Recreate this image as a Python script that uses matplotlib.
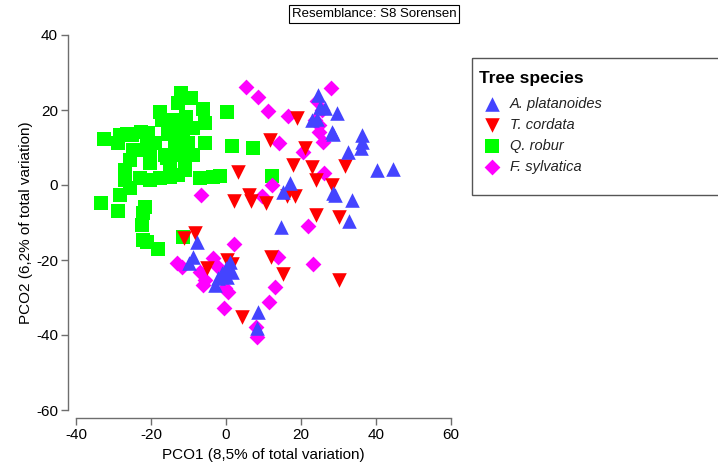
import matplotlib
matplotlib.use("Agg")
import matplotlib.pyplot as plt
from matplotlib.patches import Rectangle

plt.rcParams['font.family'] = ['Liberation Sans', 'DejaVu Sans']
plt.rcParams['axes.unicode_minus'] = False

species = ["A. platanoides", "T. cordata", "Q. robur", "F. sylvatica"]

a_plat_x = [24.5, 25.1, 26.4, 29.6, 22.9, 24.3, 28.3, 28.5, 36.3, 36.3, 32.5, 40.3, 44.5, 17.1, 15.2,
            28.5, 29.1, 33.6, 32.8, 14.7, -7.7, -8.8, -9.9, 1.1, 1.6, -2.1, -2.9, 0.3, -1.0, 8.5, 8.3,
            36.0, 0.0]
a_plat_y = [24.0, 20.8, 20.5, 19.2, 17.3, 17.6, 14.1, 13.6, 13.3, 11.5, 8.8, 4.0, 4.3, 0.5, -1.9,
            -2.1, -2.7, -4.0, -9.6, -11.2, -15.2, -19.2, -20.8, -20.5, -23.2, -24.8, -26.7, -24.5, -23.5,
            -33.9, -38.1, 10.0, -22.0]

t_cord_x = [18.9, 11.7, 21.1, 3.2, 17.9, 22.9, 31.7, 24.0, 28.3, 2.1, 6.1, 6.7, 10.7, 16.3, 18.4,
            24.0, 30.1, -11.2, -8.3, 12.0, -5.1, 0.3, 1.5, 15.2, 30.1, 4.3]
t_cord_y = [17.9, 12.0, 9.9, 3.5, 5.3, 4.8, 5.1, 1.3, 0.0, -4.3, -2.7, -4.3, -4.8, -2.9, -2.9,
            -8.0, -8.5, -14.1, -12.8, -19.2, -22.1, -20.0, -21.0, -23.7, -25.3, -35.2]

q_rob_x = [-12.0, -9.3, -12.8, -6.1, 0.3, -17.6, -10.7, -16.0, -5.6, -8.8, -22.7, -26.4, -32.5, -28.3,
           -20.8, -15.5, -11.5, -18.9, -13.6, -10.1, -5.6, 1.6, 7.2, -22.9, -20.3, -16.3, -12.3, -8.8,
           -25.6, -20.3, -14.9, -10.9, -26.9, -10.9, -13.6, -22.9, -20.3, -26.9, -6.9, -3.5, -1.6, 12.3,
           -25.6, -28.3, -33.3, -28.8, -21.6, -22.1, -22.4, -22.1, -21.1, -18.1, -11.5, -17.6, -14.9,
           -12.8, -21.1, -24.8, -17.1, -28.8, -25.1, -15.7, -14.9, -12.3]
q_rob_y = [24.5, 23.2, 21.9, 20.3, 19.5, 19.5, 18.1, 17.3, 16.5, 15.2, 14.1, 13.6, 12.3, 13.3,
           13.9, 13.6, 13.6, 11.2, 10.4, 11.2, 11.2, 10.4, 9.9, 9.3, 8.5, 8.0, 8.0, 8.0,
           6.7, 5.9, 5.3, 6.7, 4.0, 4.0, 2.7, 1.9, 1.3, 1.3, 1.9, 2.1, 2.4, 2.4,
           -0.8, -2.7, -4.8, -6.9, -5.9, -7.5, -10.7, -14.7, -15.2, -17.1, -13.9, 1.9, 2.1,
           2.7, 11.5, 9.3, 17.3, 11.2, 13.3, 7.2, 13.9, 17.3]

f_sylv_x = [5.3, 8.5, 11.2, 16.5, 28.0, 24.8, 25.9, 14.1, 20.5, 26.1, 12.3, 9.6, -6.7, 21.9, 2.1,
            13.9, 23.2, 23.7, 24.8, -13.1, -11.7, -3.5, -2.1, -6.9, -6.1, -5.6, -0.3, 0.5, -0.5,
            13.1, 11.5, 8.0, 8.3, 24.3, 25.6]
f_sylv_y = [26.1, 23.5, 19.7, 18.4, 25.9, 14.1, 11.5, 11.2, 8.8, 3.2, 0.0, -2.9, -2.7, -10.9, -15.7,
            -19.2, -21.1, 17.3, 16.0, -20.8, -21.9, -19.5, -21.9, -23.2, -26.7, -25.3, -27.5, -28.5, -32.8,
            -27.2, -31.2, -37.9, -40.5, 22.5, 20.0]

colors = {"A. platanoides": "#4444FF", "T. cordata": "#FF0000", "Q. robur": "#00FF00", "F. sylvatica": "#FF00FF"}
markers = {"A. platanoides": "^", "T. cordata": "v", "Q. robur": "s", "F. sylvatica": "D"}
sizes = {"A. platanoides": 110, "T. cordata": 110, "Q. robur": 95, "F. sylvatica": 65}

W, H = 718, 468
fig = plt.figure(figsize=(W / 100, H / 100), dpi=100)
ax = fig.add_axes([76 / W, (H - 410) / H, (451 - 76) / W, (410 - 35) / H])
ax.set_xlim(-40, 60)
ax.set_ylim(-60, 40)

data = {
    "Q. robur": (q_rob_x, q_rob_y),
    "F. sylvatica": (f_sylv_x, f_sylv_y),
    "T. cordata": (t_cord_x, t_cord_y),
    "A. platanoides": (a_plat_x, a_plat_y),
}
for sp in ["Q. robur", "F. sylvatica", "T. cordata", "A. platanoides"]:
    xs, ys = data[sp]
    ax.scatter(xs, ys, marker=markers[sp], s=sizes[sp], c=colors[sp], linewidths=0, zorder=3,
               clip_on=False)

for s in ["top", "right"]:
    ax.spines[s].set_visible(False)
for s in ["left", "bottom"]:
    ax.spines[s].set_position(("outward", 6))
    ax.spines[s].set_color("#6e6e6e")
    ax.spines[s].set_linewidth(1.0)
ax.set_xticks([-40, -20, 0, 20, 40, 60])
ax.set_yticks([-60, -40, -20, 0, 20, 40])
ax.tick_params(direction="out", length=5, width=1, color="#6e6e6e", labelsize=11, pad=2)
ax.set_xlabel("PCO1 (8,5% of total variation)", fontsize=11, labelpad=4)
ax.set_ylabel("PCO2 (6,2% of total variation)", fontsize=11, labelpad=2)

fig.text(374 / W, 1 - 14 / H, "Resemblance: S8 Sorensen", ha="center", va="center", fontsize=9.5,
         bbox=dict(boxstyle="square,pad=0.2", fc="white", ec="black", lw=0.8))

# legend panel
lax = fig.add_axes([472 / W, (H - 195) / H, (W - 472) / W, (195 - 57) / H])
lax.set_xlim(0, W - 472)
lax.set_ylim(195 - 57, 0)
lax.axis("off")
lax.add_patch(Rectangle((0.5, 0.5), 400, 137, fill=False, ec="#555555", lw=1.0, clip_on=False))
lax.text(7, 22, "Tree species", fontsize=12.5, fontweight="bold", va="center", ha="left")
legend_y = [47, 68, 89, 110]
for sp, yy in zip(species, legend_y):
    lax.scatter([20], [yy], marker=markers[sp], s=sizes[sp], c=colors[sp], linewidths=0)
    lax.text(38, yy, sp, fontsize=10.5, style="italic", va="center", ha="left", color="#222222")

fig.savefig("out.png", dpi=100)
